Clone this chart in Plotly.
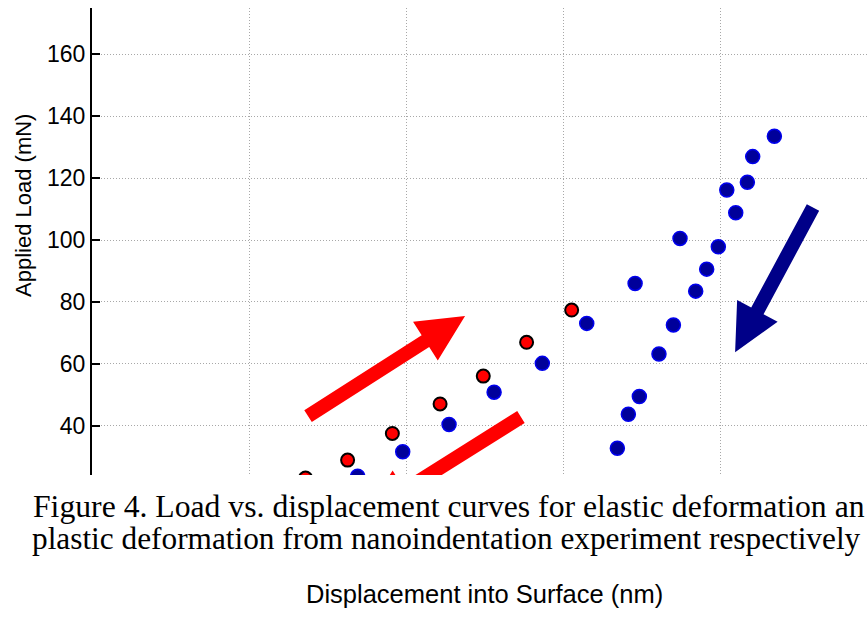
import plotly.graph_objects as go
import numpy as np

# ---- data ----
red_x = [136.0, 162.8, 191.3, 221.7, 249.2, 276.8, 305.5]
red_y = [23.2, 29.0, 37.6, 47.1, 56.1, 67.0, 77.4]

blue_load_x = [169.2, 197.9, 227.4, 256.1, 286.8, 315.1, 345.9, 374.5]
blue_load_y = [23.8, 31.7, 40.5, 50.9, 60.2, 73.1, 86.0, 100.5]

blue_unload_x = [434.6, 420.8, 417.4, 404.3, 410.0, 398.9, 391.5, 384.5, 370.3, 361.1, 348.6, 341.6, 334.6]
blue_unload_y = [133.5, 126.9, 118.6, 116.1, 108.8, 97.8, 90.6, 83.5, 72.6, 63.2, 49.5, 43.8, 32.8]

y_ticks = [40, 60, 80, 100, 120, 140, 160]
x_grid = [0, 100, 200, 300, 400]

# arrows: (tail, tip, colour) in data units
arrow_tails = [(137.6, 43.2), (273.2, 42.9), (459.2, 110.5)]
arrow_tips = [(237.6, 75.5), (173.9, 11.3), (409.6, 63.8)]
arrow_colors = ["#ff0000", "#ff0000", "#000088"]

# caption text as far as it is visible in the reference (it runs off the right edge)
caption_1 = "Figure 4. Load vs. displacement curves for elastic deformation an"
caption_2 = "plastic deformation from nanoindentation experiment respectively"
x_title = "Displacement into Surface (nm)"
y_title = "Applied Load (mN)"

W, H = 867, 618
ML, MR, MT, MB = 92, 0, 8, 143
x_range = [0, 493.6]
y_range = [24.19, 174.84]

plot_w = W - ML - MR
plot_h = H - MT - MB
sx = plot_w / (x_range[1] - x_range[0])
sy = plot_h / (y_range[1] - y_range[0])


def arrow_path(tail, tip, w=7.0, L=47.0, Hh=23.0):
    t = np.array([tail[0] * sx, tail[1] * sy])
    p = np.array([tip[0] * sx, tip[1] * sy])
    u = (p - t) / np.linalg.norm(p - t)
    n = np.array([-u[1], u[0]])
    base = p - u * L
    pts = [t + n * w, base + n * w, base + n * Hh, p, base - n * Hh, base - n * w, t - n * w]
    pts = [(q[0] / sx, q[1] / sy) for q in pts]
    return "M " + " L ".join(f"{a:.3f},{b:.3f}" for a, b in pts) + " Z"


fig = go.Figure()

blue_marker = dict(size=14, color="#00009a", line=dict(color="#0000ee", width=1.5))

fig.add_trace(go.Scatter(x=blue_load_x, y=blue_load_y, mode="markers",
                         marker=blue_marker, showlegend=False, cliponaxis=True))
fig.add_trace(go.Scatter(x=blue_unload_x, y=blue_unload_y, mode="markers",
                         marker=blue_marker, showlegend=False, cliponaxis=True))
fig.add_trace(go.Scatter(x=red_x, y=red_y, mode="markers",
                         marker=dict(size=13, color="#ff0000", line=dict(color="black", width=2)),
                         showlegend=False, cliponaxis=True))

shapes = []
for tail, tip, col in zip(arrow_tails, arrow_tips, arrow_colors):
    shapes.append(dict(type="path", xref="x", yref="y", path=arrow_path(tail, tip),
                       fillcolor=col, line=dict(width=0), layer="above"))

grid_col = "#a8a8a8"
fig.update_layout(
    width=W, height=H,
    margin=dict(l=ML, r=MR, t=MT, b=MB, pad=0),
    paper_bgcolor="white", plot_bgcolor="white",
    shapes=shapes,
    xaxis=dict(range=x_range, tickvals=x_grid, showticklabels=False, ticks="",
               showgrid=True, gridcolor=grid_col, griddash="1px,2px", gridwidth=1,
               showline=False, zeroline=False),
    yaxis=dict(range=y_range, tickvals=y_ticks, ticks="inside", ticklen=8, tickwidth=1.5,
               tickcolor="black", showline=True, linecolor="black", linewidth=2,
               showgrid=True, gridcolor=grid_col, griddash="1px,2px", gridwidth=1,
               zeroline=False,
               tickfont=dict(family="Liberation Sans, Arial", size=23, color="black")),
    annotations=[
        dict(text=y_title, xref="paper", yref="paper", x=(23 - ML) / plot_w,
             y=(MT + plot_h - 206) / plot_h, textangle=-90, showarrow=False,
             xanchor="center", yanchor="middle",
             font=dict(family="Liberation Sans, Arial", size=22, color="black")),
        dict(text=x_title, xref="paper", yref="paper", x=(484 - ML) / plot_w,
             y=(MT + plot_h - 594) / plot_h, showarrow=False,
             xanchor="center", yanchor="middle",
             font=dict(family="Liberation Sans, Arial", size=25.5, color="black")),
        dict(text=caption_1, xref="paper", yref="paper", x=(31 - ML) / plot_w,
             y=(MT + plot_h - 506) / plot_h, showarrow=False,
             xanchor="left", yanchor="middle",
             font=dict(family="Liberation Serif, Times New Roman", size=31.7, color="black")),
        dict(text=caption_2, xref="paper", yref="paper", x=(30 - ML) / plot_w,
             y=(MT + plot_h - 538) / plot_h, showarrow=False,
             xanchor="left", yanchor="middle",
             font=dict(family="Liberation Serif, Times New Roman", size=31.3, color="black")),
    ],
)

fig.write_html("out.html")
